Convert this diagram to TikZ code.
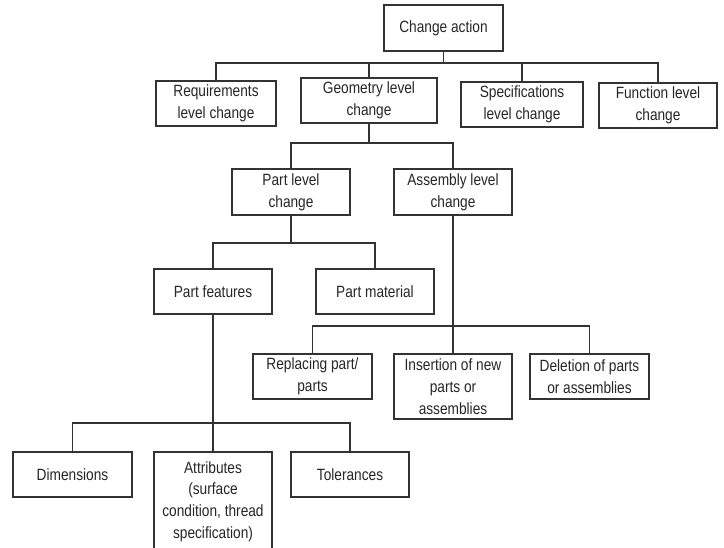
\documentclass[tikz,border=0pt]{standalone}
\usepackage{fontspec}
\setmainfont[FakeStretch=0.84]{Liberation Sans}
\begin{document}
\begin{tikzpicture}[x=1pt,y=-1pt,
  every node/.style={font=\fontsize{16.3}{21.7}\selectfont, text=black!85},
  box/.style={draw=black!80, line width=1.3pt, fill=white, align=center,
              inner sep=0pt, minimum width=118pt, minimum height=45pt},
  link/.style={draw=black!80, line width=1.1pt}]
  % page frame
  \useasboundingbox (0,0) rectangle (724,548);
  \clip (0,0) rectangle (724,548);
  \fill[white] (0,0) rectangle (724,548);

  % bus levels of the tree
  \coordinate (bus1) at (0,63);
  \coordinate (bus2) at (0,143);
  \coordinate (bus3) at (0,243);
  \coordinate (bus4) at (0,326);
  \coordinate (bus5) at (0,423);

  % boxes
  \node[box, minimum width=119pt, minimum height=46pt] (change) at (443.5,28) {Change action};
  \node[box, minimum width=120pt] (req)  at (216,103.5) {Requirements\\level change};
  \node[box, minimum width=136pt] (geom) at (369,100.5) {Geometry level\\change};
  \node[box, minimum width=122pt] (spec) at (522,104.5) {Specifications\\level change};
  \node[box] (func) at (658,105.5) {Function level\\change};

  \node[box, minimum height=46pt] (part) at (291,192) {Part level\\change};
  \node[box, minimum height=46pt] (asm)  at (453,192) {Assembly level\\change};

  \node[box] (feat) at (213,291.5) {Part features};
  \node[box] (mat)  at (375,291.5) {Part material};

  \node[box, minimum width=119pt] (repl) at (312.5,376.5) {Replacing part/\\parts};
  \node[box, minimum height=65pt] (ins)  at (453,386.5) {Insertion of new\\parts or\\assemblies};
  \node[box, minimum width=119pt] (del)  at (589.5,376.5) {Deletion of parts\\or assemblies};

  \node[box, minimum width=119pt] (dim) at (72.5,474.5) {Dimensions};
  \node[box, minimum height=99pt] (attr) at (213,501.5) {Attributes\\(surface\\condition, thread\\specification)};
  \node[box] (tol) at (350,474.5) {Tolerances};

  % connectors: change action
  \draw[link] (change.south) -- (change.south |- bus1);
  \draw[link] (req.north) -- (req.north |- bus1) -- (func.north |- bus1) -- (func.north);
  \draw[link] (geom.north) -- (geom.north |- bus1);
  \draw[link] (spec.north) -- (spec.north |- bus1);

  % connectors: geometry level change
  \draw[link] (geom.south) -- (geom.south |- bus2);
  \draw[link] (part.north) -- (part.north |- bus2) -- (asm.north |- bus2) -- (asm.north);

  % connectors: part level change
  \draw[link] (part.south) -- (part.south |- bus3);
  \draw[link] (feat.north) -- (feat.north |- bus3) -- (mat.north |- bus3) -- (mat.north);

  % connectors: assembly level change
  \draw[link] (asm.south) -- (ins.north);
  \draw[link] (repl.north) -- (repl.north |- bus4) -- (del.north |- bus4) -- (del.north);

  % connectors: part features
  \draw[link] (feat.south) -- (attr.north);
  \draw[link] (dim.north) -- (dim.north |- bus5) -- (tol.north |- bus5) -- (tol.north);
\end{tikzpicture}
\end{document}
